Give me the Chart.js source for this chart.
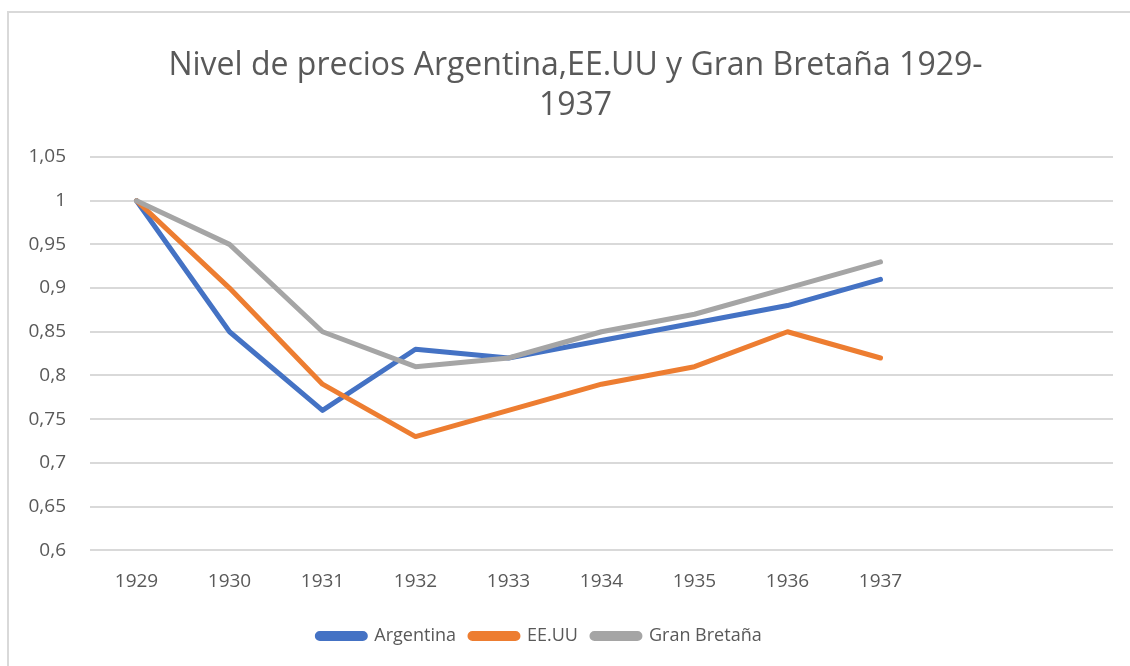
<!DOCTYPE html>
<html>
<head>
<meta charset="utf-8">
<script src="https://cdn.jsdelivr.net/npm/chart.js@4"></script>
<style>
  html, body { margin: 0; padding: 0; background: #fff; overflow: hidden; }
  #wrap { position: relative; width: 1130px; height: 666px; }
  #frame { position: absolute; left: 7px; top: 11px; width: 1200px; height: 700px; border: 2px solid #d9d9d9; }
  canvas { position: absolute; left: 0; top: 0; }
</style>
</head>
<body>
<div id="wrap">
  <div id="frame"></div>
  <canvas id="myChart" width="1130" height="666"></canvas>
</div>
<script>
// Data
const years = ["1929", "1930", "1931", "1932", "1933", "1934", "1935", "1936", "1937", "", ""];
const argentina = [1, 0.85, 0.76, 0.83, 0.82, 0.84, 0.86, 0.88, 0.91];
const eeuu = [1, 0.90, 0.79, 0.73, 0.76, 0.79, 0.81, 0.85, 0.82];
const granBretana = [1, 0.95, 0.85, 0.81, 0.82, 0.85, 0.87, 0.90, 0.93];

const textColor = "#595959";
const fontFamily = "'Open Sans', sans-serif";

const lineDs = (label, data, color, order) => ({
  label,
  data,
  borderColor: color,
  backgroundColor: color,
  borderWidth: 5,
  pointRadius: 0,
  tension: 0,
  borderCapStyle: "round",
  borderJoinStyle: "round",
  order,
});

// Excel puts the title a bit right and the legend a bit left of centre
const nudgeBoxes = {
  id: "nudgeBoxes",
  afterUpdate(chart) {
    const lg = chart.legend;
    if (lg) {
      lg.right -= 44;
      lg.adjustHitBoxes();
    }
    const tb = chart.titleBlock;
    if (tb) tb.left += 28;
  },
};

new Chart(document.getElementById("myChart"), {
  type: "line",
  data: {
    labels: years,
    datasets: [
      lineDs("Argentina", argentina, "#4472c4", 3),
      lineDs("EE.UU", eeuu, "#ed7d31", 2),
      lineDs("Gran Bretaña", granBretana, "#a5a5a5", 1),
    ],
  },
  plugins: [nudgeBoxes],
  options: {
    responsive: false,
    animation: false,
    layout: { padding: { top: 46, right: 17, bottom: 11, left: 10 } },
    plugins: {
      title: {
        display: true,
        text: ["Nivel de precios Argentina,EE.UU y Gran Bretaña 1929-", "1937"],
        color: textColor,
        font: { family: fontFamily, size: 32, weight: "normal", lineHeight: 1.25 },
        padding: { top: 0, bottom: 31 },
      },
      legend: {
        position: "bottom",
        labels: {
          color: textColor,
          font: { family: fontFamily, size: 18 },
          boxWidth: 48,
          boxHeight: 5,
          padding: 14,
          useBorderRadius: true,
          borderRadius: 2.5,
          sort: (a, b) => a.datasetIndex - b.datasetIndex,
        },
      },
      tooltip: { enabled: false },
    },
    scales: {
      x: {
        offset: true,
        grid: { display: false, drawTicks: false },
        border: { display: false },
        ticks: { color: textColor, font: { family: fontFamily, size: 19 }, padding: 20, maxRotation: 0 },
      },
      y: {
        min: 0.6,
        max: 1.05,
        afterFit: (axis) => { axis.width = 80; },
        grid: { color: "#d9d9d9", lineWidth: 2, drawTicks: false },
        border: { display: false },
        ticks: {
          stepSize: 0.05,
          color: textColor,
          font: { family: fontFamily, size: 19 },
          padding: 24,
          callback: (v) => String(Math.round(v * 100) / 100).replace(".", ","),
        },
      },
    },
  },
});
</script>
</body>
</html>
